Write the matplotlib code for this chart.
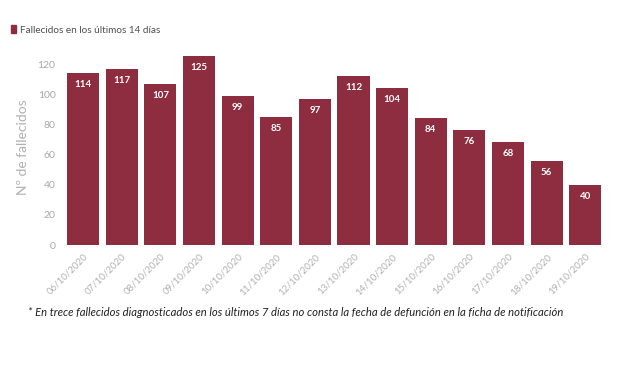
import matplotlib
matplotlib.use("Agg")
import matplotlib.pyplot as plt
from matplotlib.patches import Rectangle

# Data
dates = ["06/10/2020", "07/10/2020", "08/10/2020", "09/10/2020", "10/10/2020",
         "11/10/2020", "12/10/2020", "13/10/2020", "14/10/2020", "15/10/2020",
         "16/10/2020", "17/10/2020", "18/10/2020", "19/10/2020"]
deaths = [114, 117, 107, 125, 99, 85, 97, 112, 104, 84, 76, 68, 56, 40]
y_ticks = [0, 20, 40, 60, 80, 100, 120]

BAR_COLOR = "#8d2d3f"
plt.rcParams["font.family"] = ["Lato", "DejaVu Sans"]

fig = plt.figure(figsize=(6.2, 3.68), dpi=100)
ax = fig.add_axes([0.103, 0.334, 0.872, 0.533])

x = list(range(len(dates)))
bars = ax.bar(x, deaths, width=0.83, color=BAR_COLOR)

# Value labels inside the top of each bar
for rect, val in zip(bars, deaths):
    ax.annotate(str(val), (rect.get_x() + rect.get_width() / 2, rect.get_height()),
                xytext=(0, -5), textcoords="offset points",
                ha="center", va="top", color="white", fontsize=7, fontweight="bold")

ax.set_xlim(-0.5, len(dates) - 0.5)
ax.set_ylim(0, 130)
ax.set_yticks(y_ticks)
ax.set_xticks(x)
ax.set_xticklabels(dates, rotation=45, ha="right", va="top", rotation_mode="anchor",
                   color="#b0b0b0", fontsize=7)
ax.tick_params(axis="y", colors="#a8a8a8", labelsize=7.5, length=0, pad=6)
ax.tick_params(axis="x", length=0, pad=5)
for s in ax.spines.values():
    s.set_visible(False)
ax.set_ylabel("Nº de fallecidos", color="#b0b0b0", fontsize=10, labelpad=6)

# Legend in the top left corner
fig.patches.append(Rectangle((0.0177, 0.910), 0.008, 0.0217, color=BAR_COLOR,
                             transform=fig.transFigure, figure=fig))
fig.text(0.032, 0.918, "Fallecidos en los últimos 14 días", color="#505050",
         fontsize=7.2, va="center", ha="left")

# Footnote
fig.text(0.045, 0.150, "* En trece fallecidos diagnosticados en los últimos 7 días no consta "
         "la fecha de defunción en la ficha de notificación",
         fontsize=8.1, style="italic", color="#202020", va="center", ha="left")

fig.savefig("out.png", dpi=100)
